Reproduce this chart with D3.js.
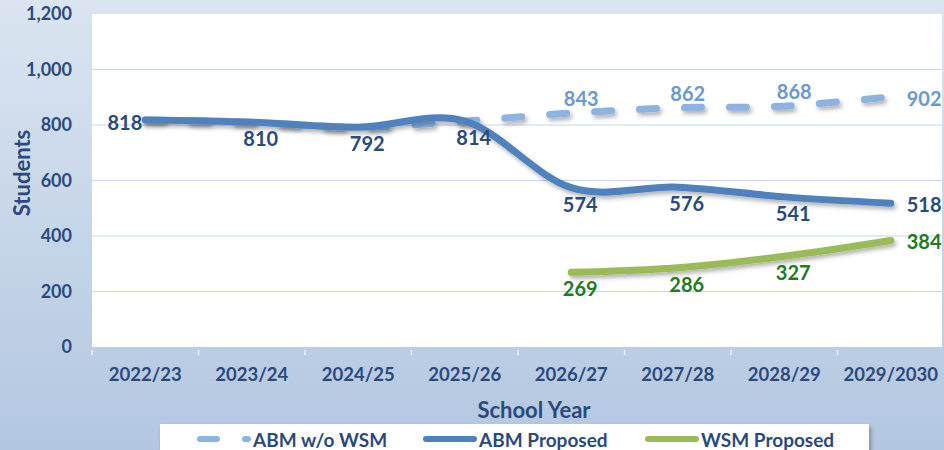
<!DOCTYPE html>
<html>
    <head>
        <meta charset='UTF-8'>
        <title>School Year Enrollment</title>
        <script src='https://d3js.org/d3.v7.min.js'></script>
        <style type='text/css'>
        body {
            margin: 0;
            overflow: hidden;
        }
        svg text {
            font-family: Lato, 'Open Sans', sans-serif;
            font-weight: 700;
        }
        </style>
    </head>
    <body>
        <div id="container"></div>
    </body>

    <script>
        // data
        var years      = ["2022/23", "2023/24", "2024/25", "2025/26", "2026/27", "2027/28", "2028/29", "2029/2030"];
        var abmNoWsm   = [818, 810, 792, 814, 843, 862, 868, 902];
        var abmProp    = [818, 810, 792, 814, 574, 576, 541, 518];
        var wsmProp    = [null, null, null, null, 269, 286, 327, 384];
        var yTicks     = [0, 200, 400, 600, 800, 1000, 1200];
        var seriesNames = ["ABM w/o WSM", "ABM Proposed", "WSM Proposed"];

        // where each value label sits relative to its point
        var noWsmLabelPos = [null, null, null, null, "above", "above", "above", "right"];
        var abmLabelPos   = ["left", "below", "below", "below", "below", "below", "below", "right"];
        var wsmLabelPos   = [null, null, null, null, "below", "below", "below", "right"];

        var width = 944, height = 450;
        var plot = {left: 92, right: 944, top: 14, bottom: 347};

        var navy = "#2b4a7c";

        var svg = d3.select("#container").append("svg")
            .attr("width", width)
            .attr("height", height);

        var defs = svg.append("defs");
        var grad = defs.append("linearGradient")
            .attr("id", "bg")
            .attr("x1", 0).attr("y1", 0).attr("x2", 0).attr("y2", 1);
        grad.append("stop").attr("offset", "0%").attr("stop-color", "#dbe5f1");
        grad.append("stop").attr("offset", "100%").attr("stop-color", "#b3c7e1");

        var shadow = defs.append("filter")
            .attr("id", "shadow")
            .attr("x", "-10%").attr("y", "-30%")
            .attr("width", "130%").attr("height", "180%");
        shadow.append("feDropShadow")
            .attr("dx", 2).attr("dy", 3)
            .attr("stdDeviation", 2)
            .attr("flood-color", "#000")
            .attr("flood-opacity", 0.3);

        // background + plot area
        svg.append("rect")
            .attr("width", width).attr("height", height)
            .attr("fill", "url(#bg)");
        svg.append("rect")
            .attr("x", plot.left).attr("y", plot.top)
            .attr("width", plot.right - plot.left - 2)
            .attr("height", plot.bottom - plot.top)
            .attr("fill", "#fff");

        // scales
        var x = d3.scaleBand()
            .domain(years)
            .range([plot.left, plot.right]);
        var y = d3.scaleLinear()
            .domain([0, 1200])
            .range([plot.bottom, plot.top]);
        function cx(i) { return x(years[i]) + x.bandwidth() / 2; }

        // gridlines
        svg.append("g").selectAll("line")
            .data(yTicks.filter(function(d) { return d > 0 && d < 1200; }))
            .enter().append("line")
            .attr("x1", plot.left).attr("x2", plot.right - 2)
            .attr("y1", function(d) { return y(d); })
            .attr("y2", function(d) { return y(d); })
            .attr("stroke", "#c8d7ec")
            .attr("stroke-width", 1.2);

        // y axis labels
        var yAxis = svg.append("g")
            .attr("transform", "translate(" + (plot.left - 20) + ",0)")
            .call(d3.axisLeft(y).tickValues(yTicks).tickSize(0).tickFormat(d3.format(",")));
        yAxis.select(".domain").remove();
        yAxis.selectAll("text")
            .attr("x", 0)
            .attr("fill", navy)
            .style("font-size", "18px");

        // x axis line + ticks at band edges
        svg.append("line")
            .attr("x1", plot.left).attr("x2", plot.right)
            .attr("y1", plot.bottom + 2).attr("y2", plot.bottom + 2)
            .attr("stroke", "#8090a8")
            .attr("stroke-width", 2.5)
            .attr("filter", "url(#shadow)");
        svg.append("g").selectAll("line")
            .data(years)
            .enter().append("line")
            .attr("x1", function(d) { return x(d); })
            .attr("x2", function(d) { return x(d); })
            .attr("y1", plot.bottom + 3).attr("y2", plot.bottom + 8)
            .attr("stroke", "#eef3fa")
            .attr("stroke-width", 1.5);

        var xAxis = svg.append("g")
            .attr("transform", "translate(0," + (plot.bottom + 4) + ")")
            .call(d3.axisBottom(x).tickSize(0));
        xAxis.select(".domain").remove();
        xAxis.selectAll("text")
            .attr("y", 24)
            .attr("dy", "0.32em")
            .attr("fill", navy)
            .style("font-size", "18.5px");

        // axis titles
        svg.append("text")
            .attr("x", 534).attr("y", 409)
            .attr("text-anchor", "middle")
            .attr("dominant-baseline", "central")
            .attr("fill", navy)
            .style("font-size", "22px")
            .text("School Year");
        svg.append("text")
            .attr("transform", "translate(21,173) rotate(-90)")
            .attr("text-anchor", "middle")
            .attr("dominant-baseline", "central")
            .attr("fill", navy)
            .style("font-size", "22px")
            .text("Students");

        // lines
        var line = d3.line()
            .defined(function(d) { return d != null; })
            .x(function(d, i) { return cx(i); })
            .y(function(d) { return y(d); })
            .curve(d3.curveCardinal);

        var series = [
            {values: abmNoWsm, color: "#8db3e2", dash: "17,28", labelColor: "#6a98d2", pos: noWsmLabelPos},
            {values: abmProp,  color: "#4f81bd", dash: null,    labelColor: navy,      pos: abmLabelPos},
            {values: wsmProp,  color: "#9bbb59", dash: null,    labelColor: "#227a22", pos: wsmLabelPos}
        ];

        series.forEach(function(s) {
            svg.append("path")
                .datum(s.values)
                .attr("d", line)
                .attr("fill", "none")
                .attr("stroke", s.color)
                .attr("stroke-width", 7)
                .attr("stroke-linecap", "round")
                .attr("stroke-dasharray", s.dash)
                .attr("filter", "url(#shadow)");
        });

        // value labels
        series.forEach(function(s) {
            s.values.forEach(function(v, i) {
                var p = s.pos[i];
                if (v == null || p == null) return;
                var px = cx(i), py = y(v), anchor = "middle";
                if (p == "left")  { px -= 3;  anchor = "end"; py += 2; }
                if (p == "right") { px += 16; anchor = "start"; py += 1; }
                if (p == "below") { px += 9;  py += 16; }
                if (p == "above") { px += 10; py -= 15; }
                svg.append("text")
                    .attr("x", px).attr("y", py)
                    .attr("text-anchor", anchor)
                    .attr("dominant-baseline", "central")
                    .attr("fill", s.labelColor)
                    .style("font-size", "20px")
                    .text(v);
            });
        });

        // legend
        var legend = svg.append("g");
        legend.append("rect")
            .attr("x", 160).attr("y", 424)
            .attr("width", 709).attr("height", 40)
            .attr("fill", "#fff")
            .attr("filter", "url(#shadow)");
        var legendX = [200, 426, 648];
        series.forEach(function(s, i) {
            legend.append("line")
                .attr("x1", legendX[i]).attr("x2", legendX[i] + 48)
                .attr("y1", 439).attr("y2", 439)
                .attr("stroke", s.color)
                .attr("stroke-width", 6)
                .attr("stroke-linecap", "round")
                .attr("stroke-dasharray", s.dash);
            legend.append("text")
                .attr("x", legendX[i] + 53).attr("y", 439)
                .attr("dominant-baseline", "central")
                .attr("fill", navy)
                .style("font-size", "19px")
                .text(seriesNames[i]);
        });
    </script>
</html>
